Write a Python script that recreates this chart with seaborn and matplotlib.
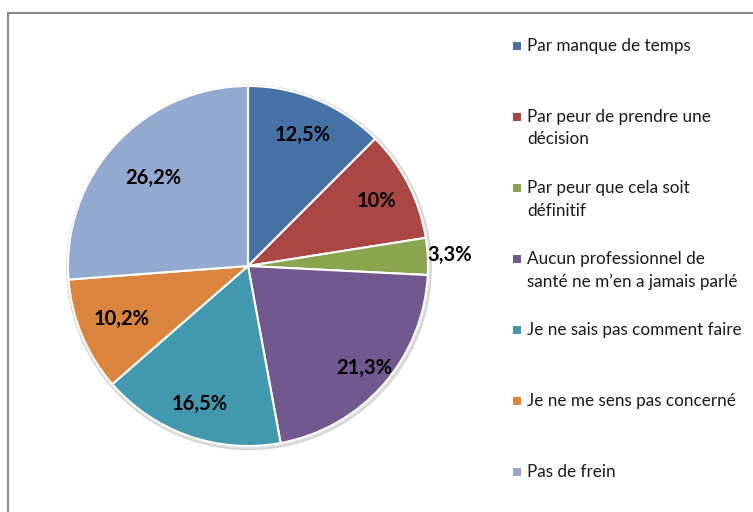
import numpy as np
import matplotlib
matplotlib.use("Agg")
import matplotlib.pyplot as plt
import seaborn as sns
from matplotlib.patches import Rectangle, Circle

categories = [
    "Par manque de temps",
    "Par peur de prendre une\ndécision",
    "Par peur que cela soit\ndéfinitif",
    "Aucun professionnel de\nsanté ne m’en a jamais parlé",
    "Je ne sais pas comment faire",
    "Je ne me sens pas concerné",
    "Pas de frein",
]
values = [12.5, 10, 3.3, 21.3, 16.5, 10.2, 26.2]
labels = ["12,5%", "10%", "3,3%", "21,3%", "16,5%", "10,2%", "26,2%"]
colors = ["#4672A7", "#AA4744", "#89A54E", "#71588F", "#4198AF", "#DB843D", "#93A9CF"]
# radial placement of each data label (fraction of radius), styling only
label_dist = [0.79, 0.8, 1.12, 0.86, 0.81, 0.76, 0.72]

sns.set_theme(style="white")
plt.rcParams['font.family'] = ['Lato', 'DejaVu Sans']

W, H = 753, 512
fig = plt.figure(figsize=(W / 100, H / 100), dpi=100)
fig.patch.set_facecolor("white")

# outer frame
fig.patches.append(Rectangle((8 / W, -0.1), 1.2, (H - 13) / H + 0.1, transform=fig.transFigure,
                             fill=False, edgecolor="#8a8a8a", linewidth=1.5))

cx, cy, r = 248, 266, 180
span = 1.2
side = 2 * span * r
ax = fig.add_axes([(cx - side / 2) / W, (H - cy - side / 2) / H, side / W, side / H])

ax.add_patch(Circle((0.006, -0.008), 1.012, color="#c8c8c8", alpha=0.6, zorder=0))
wedges, _ = ax.pie(values, colors=colors, startangle=90, counterclock=False,
                   wedgeprops=dict(edgecolor="white", linewidth=1.5), radius=1.0)
ax.set_xlim(-span, span)
ax.set_ylim(-span, span)
ax.set_aspect("equal")
ax.axis("off")

for w, lab, d in zip(wedges, labels, label_dist):
    ang = np.deg2rad((w.theta1 + w.theta2) / 2)
    ax.text(d * np.cos(ang), d * np.sin(ang), lab, ha="center", va="center",
            fontsize=14.5, fontweight="bold", color="black")

# legend
for i, (cat, col) in enumerate(zip(categories, colors)):
    y = 46 + i * 71.0
    fig.patches.append(Rectangle((513 / W, (H - y - 4) / H), 8 / W, 8 / H,
                                 transform=fig.transFigure, facecolor=col, edgecolor="none"))
    fig.text(527 / W, (H - y + 8) / H, cat, ha="left", va="top",
             fontsize=12.3, color="#1a1a1a", linespacing=1.5)

fig.savefig("out.png", dpi=100)
